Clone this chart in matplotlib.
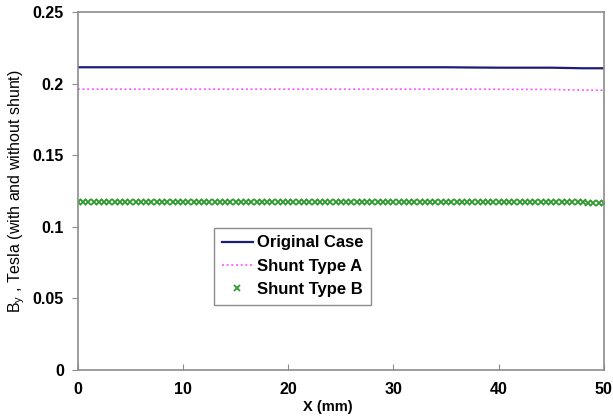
import numpy as np
import matplotlib.pyplot as plt

plt.rcParams['font.family'] = ['Liberation Sans', 'DejaVu Sans']

# ------------------------------------------------ data ------------------------------------------------
x_line = [0, 5, 10, 15, 20, 25, 30, 35, 38, 40, 45, 48, 50]
original = [0.2115, 0.2115, 0.2115, 0.2115, 0.2115, 0.2115, 0.2115, 0.2115, 0.2113,
            0.2112, 0.2112, 0.2108, 0.2108]
shunt_a = [0.1962, 0.1962, 0.1962, 0.1962, 0.1962, 0.1962, 0.1962, 0.1962, 0.1962,
           0.1961, 0.1960, 0.1955, 0.1955]

x_b = np.arange(0, 50.01, 0.5)   # sample positions, every 0.5 mm
shunt_b = [0.1172, 0.1172, 0.1172, 0.1172, 0.1172, 0.1172, 0.1172, 0.1172, 0.1172, 0.1172,
           0.1172, 0.1172, 0.1172, 0.1172, 0.1172, 0.1172, 0.1172, 0.1172, 0.1172, 0.1172,
           0.1172, 0.1172, 0.1172, 0.1172, 0.1172, 0.1172, 0.1172, 0.1172, 0.1172, 0.1172,
           0.1172, 0.1172, 0.1172, 0.1172, 0.1172, 0.1172, 0.1172, 0.1172, 0.1172, 0.1172,
           0.1172, 0.1172, 0.1172, 0.1172, 0.1172, 0.1172, 0.1172, 0.1172, 0.1172, 0.1172,
           0.1172, 0.1172, 0.1172, 0.1172, 0.1172, 0.1172, 0.1172, 0.1172, 0.1172, 0.1172,
           0.1172, 0.1172, 0.1172, 0.1172, 0.1172, 0.1172, 0.1172, 0.1172, 0.1172, 0.1172,
           0.1172, 0.1172, 0.1172, 0.1172, 0.1172, 0.1172, 0.1172, 0.1172, 0.1172, 0.1172,
           0.1172, 0.1172, 0.1172, 0.1172, 0.1172, 0.1172, 0.1172, 0.1172, 0.1171, 0.1171,
           0.1171, 0.1171, 0.1171, 0.1171, 0.1171, 0.1171, 0.1171, 0.1170, 0.1170, 0.1170,
           0.1170]

x_ticks = [0, 10, 20, 30, 40, 50]
y_ticks = [0, 0.05, 0.1, 0.15, 0.2, 0.25]
y_labels = ['0', '0.05', '0.1', '0.15', '0.2', '0.25']

# ------------------------------------------------ plot ------------------------------------------------
fig = plt.figure(figsize=(6.13, 4.19), dpi=100)
ax = fig.add_axes([0.127, 0.117, 0.858, 0.854])

ax.plot(x_line, original, color='#1c1c7a', lw=1.6, label='Original Case')
ax.plot(x_line, shunt_a, color='#ff55ff', lw=1.2, ls=(0, (1.2, 1.6)), label='Shunt Type A')
ax.plot(x_b, shunt_b, ls='none', marker='x', ms=5, mew=1.3, color='#2e9a2e',
        label='Shunt Type B')

ax.set_xlim(0, 50)
ax.set_ylim(0, 0.25)
ax.set_xticks(x_ticks)
ax.set_yticks(y_ticks)
ax.set_yticklabels(y_labels)

for s in ax.spines.values():
    s.set_color('#8c8c8c')
    s.set_linewidth(1.2)
ax.tick_params(axis='x', direction='in', length=4, color='#8c8c8c', pad=9)
ax.tick_params(axis='y', direction='out', length=4, color='#8c8c8c', pad=6)
for lab in ax.get_xticklabels() + ax.get_yticklabels():
    lab.set_fontweight('bold')
    lab.set_fontsize(11.5)

ax.set_xlabel('X (mm)', fontsize=10.5, fontweight='bold', labelpad=1)
ax.xaxis.set_label_coords(0.475, -0.085)
ax.set_ylabel(r'B$_\mathregular{y}$ , Tesla (with and without shunt)', fontsize=11.5, labelpad=4)

leg = ax.legend(loc='upper left', bbox_to_anchor=(0.259, 0.397), borderaxespad=0,
                fancybox=False, edgecolor='#8c8c8c', prop={'size': 12, 'weight': 'bold'},
                handlelength=1.9, handletextpad=0.2, borderpad=0.45, labelspacing=0.5,
                framealpha=1, markerscale=0.8)
leg.get_frame().set_linewidth(1.0)

fig.savefig('out.png', dpi=100)
